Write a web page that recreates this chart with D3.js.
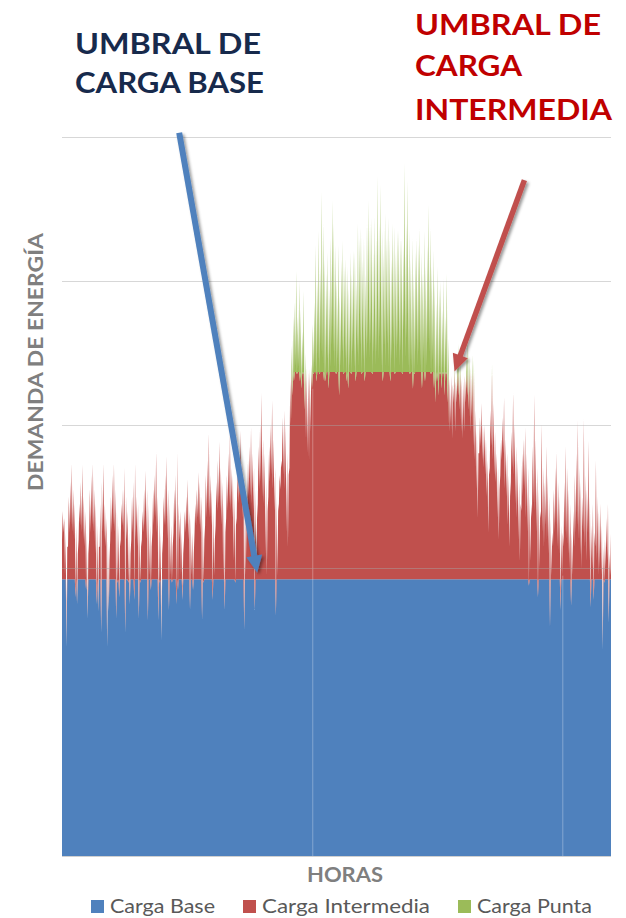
<!DOCTYPE html>
<html><head><meta charset="utf-8">
<script src="https://cdn.jsdelivr.net/npm/d3@7"></script>
<style>body{margin:0;background:#fff}svg{display:block}</style>
</head><body>
<svg id="c" width="626" height="918"></svg>
<script>
// Demanda diaria (máximo y mínimo), 365 días, unidades relativas
const demandaMax = [
24.0,23.5,22.5,21.5,25.0,26.0,27.3, 25.5,24.5,23.0,21.0,24.5,26.0,27.2, 25.0,24.0,22.5,21.0,25.5,26.5,27.3,
25.5,24.5,23.0,21.5,24.5,26.0,27.3, 24.5,23.5,22.0,20.5,25.0,26.5,27.3, 25.5,24.0,23.0,21.5,24.5,25.5,27.0,
25.0,24.0,22.5,21.0,25.0,26.0,27.3, 25.0,24.5,23.0,21.5,24.0,25.5,26.8, 25.5,24.5,23.0,21.5,25.5,26.5,28.1,
25.0,24.0,22.5,21.0,25.0,26.5,27.8, 25.5,24.5,23.0,21.5,25.5,26.5,28.1, 24.5,24.0,22.5,21.0,24.0,25.0,26.2,
24.0,23.5,22.5,21.0,24.5,25.5,26.7, 26.0,25.0,23.5,22.0,26.5,27.5,29.4, 26.5,25.5,24.0,22.0,26.0,27.5,28.8,
27.0,26.0,24.5,22.5,26.5,28.0,29.3, 27.0,26.5,25.0,23.0,27.0,28.0,29.6, 27.5,26.5,25.0,23.0,27.5,28.5,29.8,
28.0,27.0,25.5,23.5,28.5,30.0,32.2, 29.0,28.0,26.0,24.0,28.5,30.0,31.7, 29.0,27.0,25.0,24.0,26.5,27.5,30.5,
31.0,30.0,28.0,26.5,33.0,35.5,37.5, 38.5,40.7,37.5,40.0,38.0,36.5,39.3, 35.0,34.0,33.8,33.9,34.2,37.0,38.5,
42.5,40.0,43.5,41.0,46.2,44.0,41.5, 40.5,42.0,39.5,43.0,45.6,44.0,42.5, 40.0,42.5,39.0,41.5,42.8,41.0,41.6,
41.0,39.5,42.0,40.5,42.1,42.0,40.0, 44.0,43.0,43.7,41.5,43.0,40.5,44.0, 45.6,44.0,44.4,42.0,44.5,43.0,47.3,
44.0,46.7,43.5,42.0,44.7,43.0,44.4, 43.0,41.5,44.0,43.8,42.0,43.5,43.5, 43.0,43.0,42.5,48.2,44.0,47.0,43.5,
41.5,43.0,40.5,42.0,43.0,42.5,43.7, 42.0,40.5,43.5,41.0,42.5,45.3,43.7, 41.0,42.1,40.0,38.5,41.0,39.5,40.0,
38.0,40.2,37.5,40.5,36.0,33.2,33.4, 32.8,34.2,33.0,35.0,35.6,34.5,33.2, 33.0,33.4,35.0,36.0,34.8,34.0,34.9,
34.5,31.0,29.5,28.0,30.5,31.5,30.0, 30.0,29.0,27.5,26.5,31.0,34.2,31.5, 29.5,28.0,27.0,25.5,29.0,30.5,31.9,
29.0,28.0,26.5,25.0,29.5,32.2,30.0, 28.5,27.5,26.0,24.5,28.0,29.0,29.8, 28.0,27.0,25.0,24.5,28.5,32.1,29.0,
27.0,25.5,24.0,30.1,27.0,26.0,28.5, 26.5,25.0,23.5,22.5,25.5,27.0,28.1, 26.0,25.0,23.0,22.5,26.0,28.5,27.0,
25.5,24.5,22.5,24.0,26.5,28.0,30.3, 27.0,26.0,25.0,30.4,26.5,25.5,28.9, 25.0,23.0,24.5,22.5,27.5,25.0,24.0,
24.5,23.0,21.5,22.0,23.5,24.5,21.0, 22.4
];
const demandaMin = [
22.0,22.5,19.5,14.5,21.5,22.5,23.0, 22.5,22.0,18.0,17.5,22.0,23.0,22.5, 22.0,21.5,18.5,16.5,22.0,22.5,23.0,
22.5,21.0,17.5,17.0,21.5,15.5,22.5, 22.0,21.5,14.5,17.0,22.0,22.5,23.0, 22.5,16.5,19.0,18.0,22.0,23.0,22.5,
15.5,22.0,19.0,17.5,22.0,22.5,17.8, 22.0,21.5,16.5,19.0,22.0,22.5,23.0, 22.0,16.4,19.5,18.5,22.5,23.0,23.5,
22.5,16.4,19.0,15.0,22.0,23.0,23.0, 22.0,17.1,19.5,19.0,22.5,23.0,17.5, 18.5,22.0,19.5,17.8,22.0,22.5,23.0,
22.0,17.1,19.5,18.5,22.5,23.0,23.5, 23.0,22.5,16.4,19.0,23.0,23.5,24.0, 23.5,23.0,17.8,19.5,23.0,24.0,24.5,
24.0,23.0,19.5,17.1,23.5,24.0,24.5, 24.0,23.5,20.5,19.0,23.5,24.5,25.0, 24.5,23.5,15.7,19.5,24.0,25.0,25.0,
24.5,24.0,17.1,19.5,24.5,25.5,26.0, 25.0,24.5,21.0,19.5,25.0,26.0,26.5, 25.5,24.0,16.7,19.5,24.5,25.5,27.0,
26.5,25.5,22.5,21.5,27.0,30.0,32.0, 33.0,34.0,33.5,34.0,33.0,32.5,33.5, 31.0,29.0,28.0,27.5,29.5,32.5,33.5,
34.0,33.0,34.5,33.5,35.0,34.5,33.0, 33.0,34.5,32.5,34.0,35.5,35.0,34.0, 33.5,34.5,32.0,34.0,35.0,33.5,34.5,
33.0,32.5,34.0,33.5,35.0,34.0,33.0, 35.0,34.0,35.5,33.5,34.5,33.0,34.5, 35.5,34.5,35.5,33.5,35.0,34.0,35.0,
34.5,36.0,34.0,33.0,35.5,34.0,35.5, 34.0,33.0,34.5,35.5,33.5,34.5,35.5, 34.0,35.0,33.5,36.5,34.5,36.0,34.0,
33.5,34.0,32.5,33.5,35.0,34.0,35.0, 34.0,32.5,34.5,33.0,34.0,35.5,35.0, 33.5,34.5,32.5,31.5,33.0,32.0,33.5,
32.5,33.5,32.0,33.5,31.5,29.5,30.0, 29.0,31.5,29.5,31.5,32.0,31.0,29.5, 29.0,29.5,31.5,32.0,31.0,29.5,30.5,
28.5,27.5,25.5,23.5,28.0,28.5,27.5, 27.0,26.5,25.0,22.5,27.0,28.5,27.5, 26.5,26.0,23.5,22.0,26.5,27.5,28.0,
25.5,25.0,23.0,21.5,26.0,27.0,26.5, 24.5,23.5,22.0,20.5,24.0,25.0,25.5, 23.5,22.5,18.8,20.5,23.5,24.5,24.0,
22.5,18.0,20.0,23.5,22.5,21.5,23.0, 22.0,21.0,15.9,19.5,21.5,22.5,23.0, 21.5,21.0,17.1,19.5,21.5,22.5,22.0,
21.0,20.0,17.4,19.5,21.5,22.5,23.0, 22.0,21.0,20.0,22.5,21.5,20.5,22.5, 20.5,17.3,20.0,17.8,21.5,20.5,19.5,
20.0,19.5,14.3,19.0,20.0,20.5,16.2, 19.5
];
const umbralBase = 19.25;
const umbralIntermedia = 33.65;
const gridValores = [20, 30, 40, 50];
const cortesDia = [166.5, 332.5];
const seriesNombres = ["Carga Base", "Carga Intermedia", "Carga Punta"];
const seriesColores = ["#4F81BD", "#C0504D", "#9BBB59"];
// Flechas: [día, valor] inicio y punta
const flechaBase = [[77.8, 50.3], [129.6, 19.7]];
const flechaIntermedia = [[307.0, 47.0], [260.6, 33.7]];

const svg = d3.select("#c");
const x = d3.scaleLinear().domain([0, 364.5]).range([62, 611]);
const y = d3.scaleLinear().domain([0, 50]).range([856, 137]);

// puntos: mínimo del día y máximo medio día después
const puntos = [];
demandaMin.forEach((mn, d) => {
  puntos.push({t: d, v: mn});
  puntos.push({t: d + 0.5, v: demandaMax[d]});
});
const tabla = puntos.map(p => ({
  t: p.t,
  base: Math.min(p.v, umbralBase),
  inter: Math.max(0, Math.min(p.v, umbralIntermedia) - umbralBase),
  punta: Math.max(0, p.v - umbralIntermedia)
}));
const stack = d3.stack().keys(["base", "inter", "punta"])(tabla);
const area = d3.area().x(d => x(d.data.t)).y0(d => y(d[0])).y1(d => y(d[1]));

const gArea = svg.append("g");
gArea.selectAll("path").data(stack).join("path")
  .attr("d", area).attr("fill", (d, i) => seriesColores[i]);

// costuras verticales
svg.append("g").selectAll("line").data(cortesDia).join("line")
  .attr("x1", d => x(d)).attr("x2", d => x(d))
  .attr("y1", y(0)).attr("y2", d => y(demandaMin[Math.floor(d)]))
  .attr("stroke", "#fff").attr("stroke-opacity", 0.3).attr("stroke-width", 1);

// líneas de cuadrícula
svg.append("g").selectAll("line").data(gridValores).join("line")
  .attr("x1", 62).attr("x2", 611)
  .attr("y1", d => Math.round(y(d)) + 0.5).attr("y2", d => Math.round(y(d)) + 0.5)
  .attr("stroke", "#a6a6a6").attr("stroke-opacity", 0.45).attr("stroke-width", 1.2);

// eje horizontal
svg.append("line").attr("x1", 62).attr("x2", 611)
  .attr("y1", y(0) + 0.5).attr("y2", y(0) + 0.5)
  .attr("stroke", "#d0d0d0").attr("stroke-width", 1);

// sombras
const defs = svg.append("defs");
defs.append("filter").attr("id", "sh").attr("x", "-50%").attr("y", "-50%")
  .attr("width", "200%").attr("height", "200%")
  .append("feDropShadow").attr("dx", 2).attr("dy", 2).attr("stdDeviation", 1.8)
  .attr("flood-color", "#000").attr("flood-opacity", 0.4);

function flecha(par, color, ancho) {
  const x1 = x(par[0][0]), y1 = y(par[0][1]);
  const x2 = x(par[1][0]), y2 = y(par[1][1]);
  const dx = x2 - x1, dy = y2 - y1, L = Math.hypot(dx, dy);
  const ux = dx / L, uy = dy / L, nx = -uy, ny = ux;
  const hl = 17, hw = 8;
  const g = svg.append("g").attr("filter", "url(#sh)");
  g.append("line").attr("x1", x1).attr("y1", y1)
    .attr("x2", x2 - ux * hl * 0.8).attr("y2", y2 - uy * hl * 0.8)
    .attr("stroke", color).attr("stroke-width", ancho);
  const bx = x2 - ux * hl, by = y2 - uy * hl;
  g.append("polygon").attr("points",
    [[x2, y2], [bx + nx * hw, by + ny * hw], [bx - nx * hw, by - ny * hw]].map(p => p.join(",")).join(" "))
    .attr("fill", color);
}
flecha(flechaBase, "#4F81BD", 6);
flecha(flechaIntermedia, "#C0504D", 5.5);

// textos
const F = "Lato, 'Open Sans', sans-serif";
function texto(t, px, py, size, color, weight, len) {
  return svg.append("text").attr("x", px).attr("y", py).text(t)
    .attr("font-family", F).attr("font-size", size).attr("font-weight", weight)
    .attr("fill", color).attr("textLength", len).attr("lengthAdjust", "spacingAndGlyphs");
}
texto("UMBRAL DE", 75, 54, 29, "#172A4C", 700, 186);
texto("CARGA BASE", 75, 93, 29, "#172A4C", 700, 189);
texto("UMBRAL DE", 415, 35, 29, "#C00000", 700, 186);
texto("CARGA", 415, 76, 29, "#C00000", 700, 107);
texto("INTERMEDIA", 415, 120, 29, "#C00000", 700, 197);

svg.append("text").text("DEMANDA DE ENERGÍA")
  .attr("transform", "translate(43,362) rotate(-90)")
  .attr("text-anchor", "middle")
  .attr("font-family", F).attr("font-size", 20).attr("font-weight", 700)
  .attr("fill", "#7F7F7F").attr("textLength", 258).attr("lengthAdjust", "spacingAndGlyphs");

texto("HORAS", 307, 882, 20, "#7F7F7F", 700, 76);

const legX = [91, 243, 458], legLen = [105, 168, 115];
seriesNombres.forEach((n, i) => {
  svg.append("rect").attr("x", legX[i]).attr("y", 900).attr("width", 13).attr("height", 13)
    .attr("fill", seriesColores[i]);
  texto(n, legX[i] + 19, 913, 20, "#595959", 400, legLen[i]);
});
</script>
</body></html>
